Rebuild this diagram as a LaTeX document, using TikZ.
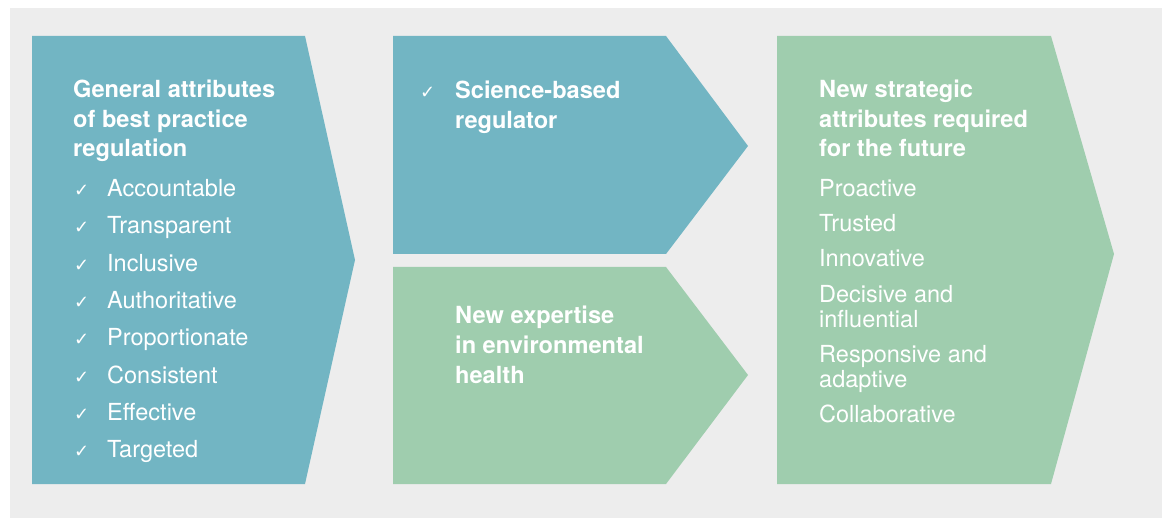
\documentclass[tikz,border=0pt]{standalone}
\usepackage{fontspec}
\setmainfont{TeX Gyre Heros}
\newfontfamily\checkfont{DejaVu Sans}
\definecolor{bgc}{HTML}{EDEDED}
\definecolor{bluec}{HTML}{72B5C3}
\definecolor{greenc}{HTML}{9FCDAE}
\tikzset{
  ttl/.style={anchor=base west, inner sep=0pt, text=white, font=\fontsize{23.6}{28}\selectfont\bfseries},
  itm/.style={anchor=base west, inner sep=0pt, text=white, font=\fontsize{23.5}{28}\selectfont},
  chk/.style={anchor=base west, inner sep=0pt, text=white, font=\checkfont\fontsize{18}{20}\selectfont},
}
\begin{document}
\begin{tikzpicture}[x=1pt,y=-1pt]
\useasboundingbox (0,0) rectangle (1162,518);
\fill[bgc] (10,8) rectangle (1162,518);
% shapes
\fill[bluec] (32,36) -- (305,36) -- (355,260) -- (305,484) -- (32,484) -- cycle;
\fill[bluec] (393,36) -- (666,36) -- (748,146) -- (666,254) -- (393,254) -- cycle;
\fill[greenc] (393,267) -- (666,267) -- (748,375) -- (666,484) -- (393,484) -- cycle;
\fill[greenc] (777,36) -- (1051,36) -- (1114,254) -- (1051,484) -- (777,484) -- cycle;
% left block
\node[ttl] (l1) at (73,98) {General attributes};
\node[ttl] (l2) at (73,128) {of best practice};
\node[ttl] (l3) at (73,157) {regulation};
\foreach \t [count=\i] in {Accountable,Transparent,Inclusive,Authoritative,Proportionate,Consistent,Effective,Targeted}{
  \node[chk] (c\i) at (74,{196.7+37.3*(\i-1)}) {✓};
  \node[itm] (i\i) at (107,{196.7+37.3*(\i-1)}) {\t};
}
% middle top
\node[chk] (mc) at (420,99) {✓};
\node[ttl] (m1) at (455,99) {Science-based};
\node[ttl] (m2) at (455,129) {regulator};
% middle bottom
\node[ttl] (g1) at (455,324) {New expertise};
\node[ttl] (g2) at (455,354) {in environmental};
\node[ttl] (g3) at (455,384) {health};
% right block
\node[ttl] (r1) at (819,98) {New strategic};
\node[ttl] (r2) at (819,128) {attributes required};
\node[ttl] (r3) at (819,157) {for the future};
\node[itm] (p1) at (819,197) {Proactive};
\node[itm] (p2) at (819,232) {Trusted};
\node[itm] (p3) at (819,267) {Innovative};
\node[itm] (p4) at (819,303) {Decisive and};
\node[itm] (p5) at (819,328) {influential};
\node[itm] (p6) at (819,363) {Responsive and};
\node[itm] (p7) at (819,388) {adaptive};
\node[itm] (p8) at (819,423) {Collaborative};
\end{tikzpicture}
\end{document}
